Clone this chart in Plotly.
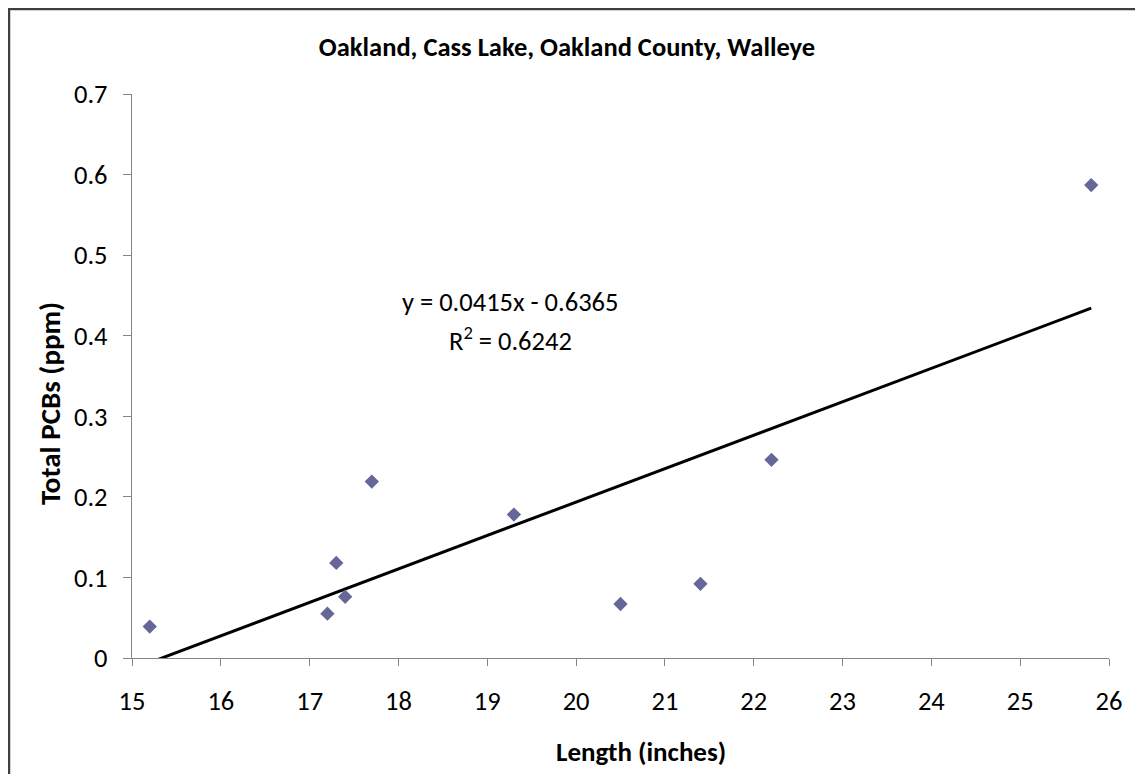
import numpy as np
import plotly.graph_objects as go

length_in = [15.2, 17.2, 17.3, 17.4, 17.7, 19.3, 20.5, 21.4, 22.2, 25.8]
pcb_ppm = [0.039, 0.055, 0.118, 0.076, 0.219, 0.178, 0.067, 0.092, 0.246, 0.587]
slope, intercept, r2 = 0.0415, -0.6365, 0.6242

x_ticks = list(range(15, 27))
y_ticks = [0, 0.1, 0.2, 0.3, 0.4, 0.5, 0.6, 0.7]

# linear trendline over the data's x span
tx = np.array([min(length_in), max(length_in)])
ty = slope * tx + intercept

fig = go.Figure()
fig.add_trace(go.Scatter(x=tx, y=ty, mode='lines',
                         line=dict(color='black', width=3), hoverinfo='skip'))
fig.add_trace(go.Scatter(x=length_in, y=pcb_ppm, mode='markers',
                         marker=dict(symbol='diamond', size=11, color='#666699')))

fig.add_annotation(x=19.26, y=0.442, xref='x', yref='y', showarrow=False,
                   text=f'y = {slope}x - {abs(intercept)}', font=dict(size=26.5, color='black'))
fig.add_annotation(x=19.26, y=0.396, xref='x', yref='y', showarrow=False,
                   text=f'R<sup>2</sup> = {r2}', font=dict(size=26.5, color='black'))

# axis titles
fig.add_annotation(x=0.521, y=-0.165, xref='paper', yref='paper', showarrow=False,
                   xanchor='center', yanchor='middle',
                   text='<b>Length (inches)</b>', font=dict(size=27, color='black'))
fig.add_annotation(x=-0.084, y=0.452, xref='paper', yref='paper', showarrow=False,
                   xanchor='center', yanchor='middle', textangle=-90,
                   text='<b>Total PCBs (ppm)</b>', font=dict(size=29, color='black'))

# chart border
fig.add_shape(type='rect', xref='paper', yref='paper',
              x0=-0.1259, x1=1.0338, y0=-0.25, y1=1.1507,
              line=dict(color='#404040', width=2.5), layer='below')

font = 'Carlito, Lato, sans-serif'
fig.update_layout(
    width=1135, height=766,
    margin=dict(l=124, r=34, t=86, b=116),
    plot_bgcolor='white', paper_bgcolor='white',
    showlegend=False,
    font=dict(family=font, size=26.5, color='black'),
    title=dict(text='<b>Oakland, Cass Lake, Oakland County, Walleye</b>',
               x=0.4925, xanchor='center', y=0.949, yanchor='middle',
               font=dict(size=26.5, color='black')),
    xaxis=dict(range=[15, 26], tickvals=x_ticks, showgrid=False, zeroline=False,
               showline=True, linecolor='#868686', linewidth=1.3,
               ticks='outside', ticklen=7, tickcolor='#868686',
               ticklabelstandoff=12, tickfont=dict(size=26.5)),
    yaxis=dict(range=[0, 0.7], tickvals=y_ticks, showgrid=False, zeroline=False,
               showline=True, linecolor='#868686', linewidth=1.3,
               ticks='outside', ticklen=8, tickcolor='#868686',
               ticklabelstandoff=10, tickfont=dict(size=26.5)),
)

fig.write_html("out.html")
